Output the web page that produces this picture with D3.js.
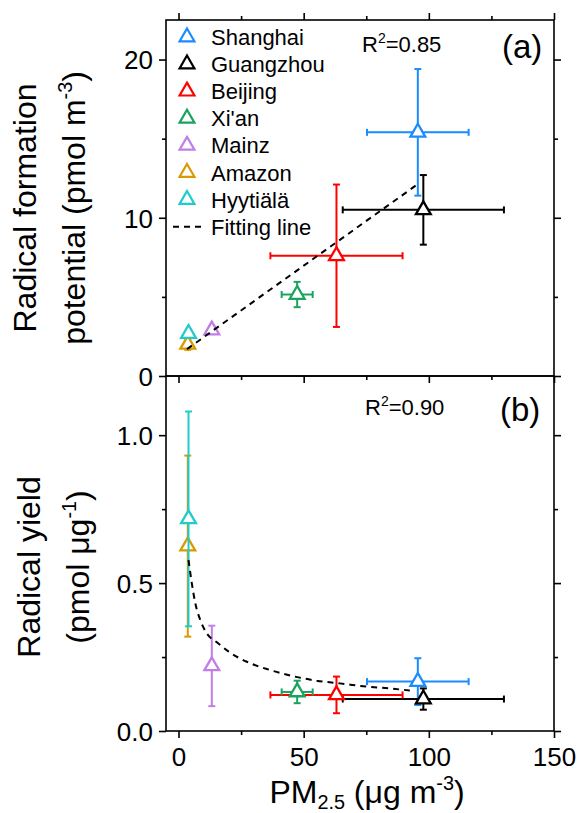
<!DOCTYPE html>
<html><head><meta charset="utf-8">
<script src="https://cdn.jsdelivr.net/npm/d3@7"></script>
<style>
html,body{margin:0;padding:0;background:#fff;}
svg{display:block;font-family:"Liberation Sans",Arial,sans-serif;}
</style></head>
<body><svg id="c" width="581" height="813"></svg>
<script>
// ---- data ----
const cities = ["Shanghai","Guangzhou","Beijing","Xi'an","Mainz","Amazon","Hyytiälä"];
const colors = ["#1a8cff","#000000","#ff0000","#1aa35f","#c07fe6","#d99a00","#1fcccc"];
const pm25 = [95.6, 97.8, 63.1, 47.4, 13.3, 3.7, 4.0];
const pm25Err = [20.3, 32.2, 26.4, 6.2, 1.0, 0.8, 0.8];
const rfp = [15.4, 10.5, 7.6, 5.15, 2.9, 2.0, 2.68];
const rfpErr = [4.0, 2.2, 4.5, 0.8, 0.25, 0.35, 0.25];
const ry = [0.167, 0.108, 0.122, 0.132, 0.22, 0.625, 0.717];
const ryErr = [0.079, 0.036, 0.062, 0.038, 0.136, 0.306, 0.363];
const fitAx = [3.4, 95.7];
const fitAy = [1.7, 12.14];
const fitBx = [4.0, 5.3, 6.7, 8.7, 11.3, 15.3, 20.6, 27.3, 36.6, 45.9, 55.2, 64.5, 75.1, 84.0, 92.4];
const fitBy = [0.578, 0.50, 0.432, 0.375, 0.33, 0.30, 0.265, 0.234, 0.206, 0.185, 0.17, 0.161, 0.15, 0.144, 0.137];
const xTicks = [0, 50, 100, 150];
const xMinor = [25, 75, 125];
const yTicksA = [0, 10, 20];
const yMinorA = [5, 15];
const yTicksB = [0.0, 0.5, 1.0];
const yMinorB = [0.25, 0.75];
const r2A = "0.85", r2B = "0.90";

// ---- layout ----
const L = 166, R = 554, TA = 20, MID = 376, BB = 731;
const svg = d3.select("#c");
const x = d3.scaleLinear().domain([-5, 150]).range([L, R]);
const yA = d3.scaleLinear().domain([0, 22.5]).range([MID, TA]);
const yB = d3.scaleLinear().domain([0, 1.2]).range([BB, MID]);

const axW = 1.6, majL = 7, minL = 4;
const tickFont = 26;

function frame(y0, y1) {
  svg.append("rect").attr("x", L).attr("y", y0).attr("width", R - L).attr("height", y1 - y0)
    .attr("fill", "none").attr("stroke", "#000").attr("stroke-width", axW);
}
frame(TA, MID); frame(MID, BB);

function xAxis(y, dir, labels) {
  const a = (dir > 0 ? d3.axisBottom(x) : d3.axisTop(x)).tickValues(xTicks).tickSize(majL).tickSizeOuter(0)
    .tickFormat(labels ? d3.format("d") : "");
  const g = svg.append("g").attr("transform", `translate(0,${y})`).call(a);
  const m = (dir > 0 ? d3.axisBottom(x) : d3.axisTop(x)).tickValues(xMinor).tickSize(minL).tickSizeOuter(0).tickFormat("");
  const g2 = svg.append("g").attr("transform", `translate(0,${y})`).call(m);
  [g, g2].forEach(gg => { gg.select(".domain").remove(); gg.selectAll("line").attr("stroke-width", axW); });
  g.selectAll("text").attr("font-size", tickFont).attr("fill", "#000").attr("dy", null)
    .attr("y", 35).attr("font-family", "Liberation Sans, Arial, sans-serif");
}
xAxis(TA, -1, false);
xAxis(MID, 1, false);
xAxis(BB, 1, true);

function yAxis(ys, ticks, minor, fmt) {
  const gl = svg.append("g").attr("transform", `translate(${L},0)`)
    .call(d3.axisLeft(ys).tickValues(ticks).tickSize(majL).tickSizeOuter(0).tickFormat(fmt));
  const gl2 = svg.append("g").attr("transform", `translate(${L},0)`)
    .call(d3.axisLeft(ys).tickValues(minor).tickSize(minL).tickSizeOuter(0).tickFormat(""));
  const gr = svg.append("g").attr("transform", `translate(${R},0)`)
    .call(d3.axisRight(ys).tickValues(ticks).tickSize(majL).tickSizeOuter(0).tickFormat(""));
  const gr2 = svg.append("g").attr("transform", `translate(${R},0)`)
    .call(d3.axisRight(ys).tickValues(minor).tickSize(minL).tickSizeOuter(0).tickFormat(""));
  [gl, gl2, gr, gr2].forEach(g => { g.select(".domain").remove(); g.selectAll("line").attr("stroke-width", axW); });
  gl.selectAll("text").attr("font-size", tickFont).attr("fill", "#000").attr("x", -13).attr("dy", "0.36em")
    .attr("font-family", "Liberation Sans, Arial, sans-serif");
}
yAxis(yA, yTicksA, yMinorA, d3.format("d"));
yAxis(yB, yTicksB, yMinorB, d3.format(".1f"));

// ---- points ----
const capW = 3.5;
function drawPoints(ys, yv, ye) {
  const tri = d3.symbol().type(d3.symbolTriangle).size(95);
  cities.forEach((c, i) => {
    const g = svg.append("g");
    const cx = x(pm25[i]), cy = ys(yv[i]);
    const x0 = x(pm25[i] - pm25Err[i]), x1 = x(pm25[i] + pm25Err[i]);
    const y0 = ys(yv[i] - ye[i]), y1 = ys(yv[i] + ye[i]);
    const ln = (a, b, c2, d) => g.append("line").attr("x1", a).attr("y1", b).attr("x2", c2).attr("y2", d)
      .attr("stroke", colors[i]).attr("stroke-width", 2);
    ln(x0, cy, x1, cy); ln(x0, cy - capW, x0, cy + capW); ln(x1, cy - capW, x1, cy + capW);
    ln(cx, y0, cx, y1); ln(cx - capW, y0, cx + capW, y0); ln(cx - capW, y1, cx + capW, y1);
    g.append("path").attr("d", tri()).attr("transform", `translate(${cx},${cy})`)
      .attr("fill", "#fff").attr("stroke", colors[i]).attr("stroke-width", 2.3);
  });
}
drawPoints(yA, rfp, rfpErr);
drawPoints(yB, ry, ryErr);

// ---- fitting lines ----
svg.append("path").datum(fitAx.map((v, i) => [v, fitAy[i]]))
  .attr("d", d3.line().x(d => x(d[0])).y(d => yA(d[1])))
  .attr("fill", "none").attr("stroke", "#000").attr("stroke-width", 2).attr("stroke-dasharray", "6,5");
svg.append("path").datum(fitBx.map((v, i) => [v, fitBy[i]]))
  .attr("d", d3.line().curve(d3.curveMonotoneX).x(d => x(d[0])).y(d => yB(d[1])))
  .attr("fill", "none").attr("stroke", "#000").attr("stroke-width", 2).attr("stroke-dasharray", "6,5");

// ---- legend ----
const legY0 = 37, legDy = 27.1;
cities.forEach((c, i) => {
  const yy = legY0 + i * legDy;
  svg.append("path").attr("d", d3.symbol().type(d3.symbolTriangle).size(95)())
    .attr("transform", `translate(187,${yy})`).attr("fill", "#fff").attr("stroke", colors[i]).attr("stroke-width", 2.2);
  svg.append("text").attr("x", 211).attr("y", yy + 8).attr("font-size", 22).text(c);
});
{
  const yy = legY0 + 7 * legDy;
  svg.append("line").attr("x1", 173).attr("x2", 204).attr("y1", yy).attr("y2", yy)
    .attr("stroke", "#000").attr("stroke-width", 2).attr("stroke-dasharray", "6,5");
  svg.append("text").attr("x", 211).attr("y", yy + 8).attr("font-size", 22).text("Fitting line");
}

// ---- annotations ----
function r2(xp, yp, v) {
  const t = svg.append("text").attr("x", xp).attr("y", yp).attr("font-size", 22);
  t.append("tspan").text("R");
  t.append("tspan").attr("font-size", 14).attr("dy", -9).text("2");
  t.append("tspan").attr("dy", 9).text("=" + v);
}
r2(362, 52, r2A);
r2(365, 415, r2B);
svg.append("text").attr("x", 502).attr("y", 58).attr("font-size", 33).text("(a)");
svg.append("text").attr("x", 500).attr("y", 421).attr("font-size", 33).text("(b)");

// ---- axis titles ----
const titleF = 32;
function yTitle(cy, lines) {
  lines.forEach(([bx, parts]) => {
    const t = svg.append("text").attr("transform", `translate(${bx},${cy}) rotate(-90)`)
      .attr("text-anchor", "middle").attr("font-size", titleF);
    parts.forEach(p => {
      const s = t.append("tspan").text(p.t);
      if (p.sup) s.attr("font-size", titleF * 0.62).attr("dy", -titleF * 0.42);
      if (p.back) s.attr("dy", titleF * 0.42);
    });
  });
}
yTitle(208, [
  [36, [{ t: "Radical formation" }]],
  [85, [{ t: "potential (pmol m" }, { t: "-3", sup: true }, { t: ")", back: true }]]
]);
yTitle(567, [
  [40, [{ t: "Radical yield" }]],
  [89, [{ t: "(pmol μg" }, { t: "-1", sup: true }, { t: ")", back: true }]]
]);
{
  const t = svg.append("text").attr("x", 367).attr("y", 803).attr("text-anchor", "middle").attr("font-size", titleF);
  t.append("tspan").text("PM");
  t.append("tspan").attr("font-size", titleF * 0.62).attr("dy", 6).text("2.5");
  t.append("tspan").attr("dy", -6).text(" (μg m");
  t.append("tspan").attr("font-size", titleF * 0.62).attr("dy", -titleF * 0.42).text("-3");
  t.append("tspan").attr("dy", titleF * 0.42).text(")");
}
</script></body></html>
